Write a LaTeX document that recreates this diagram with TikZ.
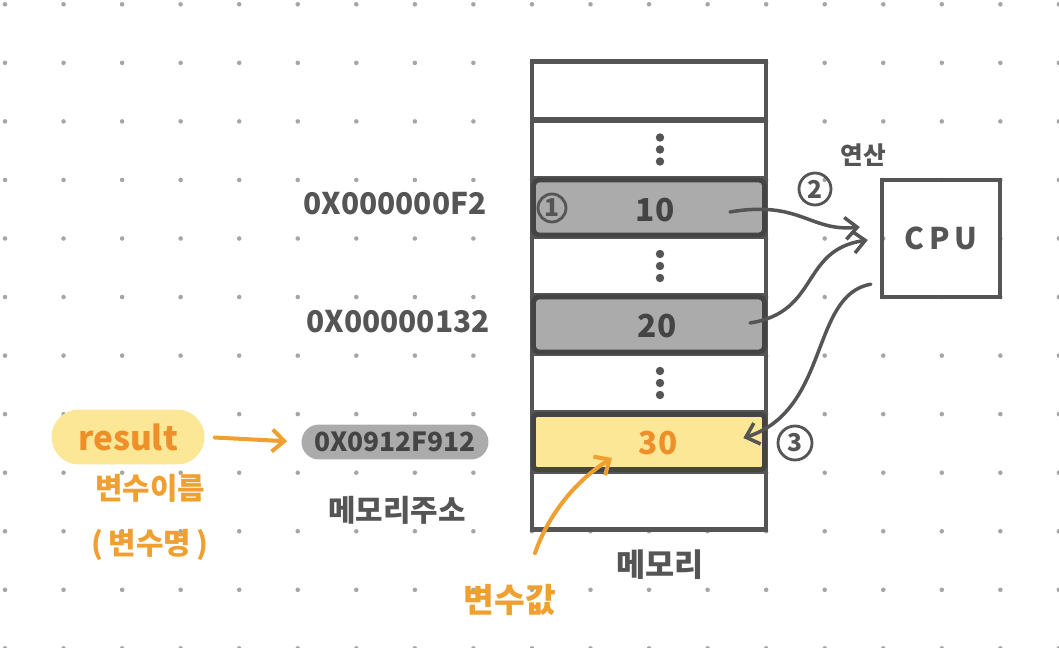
\documentclass[tikz,border=0pt]{standalone}
\usepackage{fontspec}
\setmainfont{Noto Sans CJK KR}
\usepackage{tikz}
\usetikzlibrary{arrows.meta,positioning}
\definecolor{ink}{HTML}{555555}
\definecolor{darkink}{HTML}{444444}
\definecolor{dotgray}{HTML}{A6A6A6}
\definecolor{cellgray}{HTML}{ABABAB}
\definecolor{hiyellow}{HTML}{FBE795}
\definecolor{orng}{HTML}{EFA030}
\definecolor{orngtext}{HTML}{EE8F2A}

\tikzset{
  cell/.style={draw=ink,line width=2.7pt,fill=white,minimum width=4.68cm,minimum height=1.17cm,inner sep=0pt},
  grayed/.style={cell,fill=cellgray,draw=darkink,rounded corners=3pt,minimum width=4.62cm,minimum height=1.1cm},
  picked/.style={cell,fill=hiyellow,draw=darkink,rounded corners=2pt,minimum width=4.62cm,minimum height=1.1cm},
  val/.style={text=darkink,font=\fontsize{18}{20}\selectfont\bfseries},
  addr/.style={text=ink,font=\fontsize{17}{19}\selectfont\bfseries},
  krtext/.style={text=ink,font=\fontsize{17}{19}\selectfont\bfseries},
  numcirc/.style={circle,draw=ink,line width=1.6pt,inner sep=0pt,text=ink,font=\fontsize{14}{14}\selectfont\bfseries},
  garrow/.style={draw=ink,line width=2pt,line cap=round,-{Straight Barb[length=2.4mm,width=4.4mm]}},
  oarrow/.style={draw=orng,line width=2.3pt,line cap=round,-{Straight Barb[length=2.4mm,width=4.4mm]}}
}

\begin{document}
\begin{tikzpicture}[x=0.02cm,y=-0.02cm]
	\useasboundingbox (0,0) rectangle (1059,648);
	% dot grid
	\foreach \i in {0,...,18}
		\foreach \j in {0,...,11}
			\fill[dotgray] (5+58.55*\i,4.3+58.55*\j) circle (1.3pt);

	% memory
	\node[cell] (mtop) at (649,90.5) {};
	\node[cell] (mdots1) at (649,149.5) {};
	\node[cell] (mrow10) at (649,207.5) {};
	\node[cell] (mdots2) at (649,266) {};
	\node[cell] (mrow20) at (649,324.5) {};
	\node[cell] (mdots3) at (649,383) {};
	\node[cell] (mrow30) at (649,442) {};
	\node[cell] (mbottom) at (649,500.5) {};
	\node[grayed] (g10) at (649,207.5) {};
	\node[grayed] (g20) at (649,324.5) {};
	\node[picked] (y30) at (649,442) {};
	\foreach \c in {mdots1,mdots2,mdots3}
		\foreach \k in {-0.24,0,0.24}
			\fill[ink] ([xshift=0.22cm,yshift=\k cm]\c.center) circle (2.4pt);

	\node[val] (v10) at (655,210) {10};
	\node[val] (v20) at (657,326) {20};
	\node[val,text=orngtext] (v30) at (658,443) {30};
	\node[numcirc,minimum size=0.56cm] (c1) at (552,208) {1};

	% cpu
	\node[draw=ink,line width=2.5pt,minimum width=2.36cm,minimum height=2.34cm,text=ink,font=\fontsize{17}{19}\selectfont\bfseries] (cpu) at (941,238.5) {C\,P\,U};
	\node[krtext,font=\fontsize{14}{16}\selectfont\bfseries] (calc) at (863,155) {연산};
	\node[numcirc,minimum size=0.64cm] (c2) at (815,189) {2};
	\node[numcirc,minimum size=0.68cm] (c3) at (795,443) {3};

	% addresses
	\node[addr] (a10) at (395,204) {0X000000F2};
	\node[addr] (a20) at (398,322) {0X00000132};
	\node[fill=cellgray,rounded corners=0.35cm,minimum width=3.74cm,minimum height=0.7cm,inner sep=0pt,text=darkink,font=\fontsize{15}{17}\selectfont\bfseries] (a30) at (395,442) {0X0912F912};
	\node[krtext] (addrname) at (397,510) {메모리주소};
	\node[krtext,font=\fontsize{18}{20}\selectfont\bfseries] (memname) at (660,565) {메모리};

	% variable
	\node[fill=hiyellow,rounded corners=0.55cm,minimum width=3.06cm,minimum height=1.1cm,inner sep=0pt,text=orngtext,font=\fontsize{19}{21}\selectfont\bfseries] (res) at (128,437) {result};
	\node[krtext,text=orng] (varname) at (150,488) {변수이름};
	\node[krtext,text=orng] (varname2) at (150,545) {(\,변수명\,)};
	\node[krtext,text=orng,font=\fontsize{19}{21}\selectfont\bfseries] (varval) at (510,600) {변수값};

	% arrows
	\coordinate (s10) at (730,212);
	\coordinate (s20) at (750,323);
	\draw[garrow] (s10) .. controls (800,200) and (810,232) .. ([xshift=-0.4cm,yshift=0.23cm]cpu.west);
	\draw[garrow] (s20) .. controls (820,312) and (800,250) .. ([xshift=-0.24cm,yshift=-0.03cm]cpu.west);
	\draw[garrow] ([xshift=-0.18cm,yshift=0.3cm]cpu.south west) .. controls (810,295) and (830,410) .. ([xshift=-0.5cm,yshift=0.08cm]mrow30.east);
	\draw[oarrow,shorten <=0.2cm,shorten >=0.28cm] (res.east) -- (a30.west);
	\draw[oarrow] ([xshift=0.5cm,yshift=0.5cm]varval.north) .. controls (550,510) and (580,478) .. ([xshift=-0.92cm,yshift=-0.3cm]v30.center);
\end{tikzpicture}
\end{document}
